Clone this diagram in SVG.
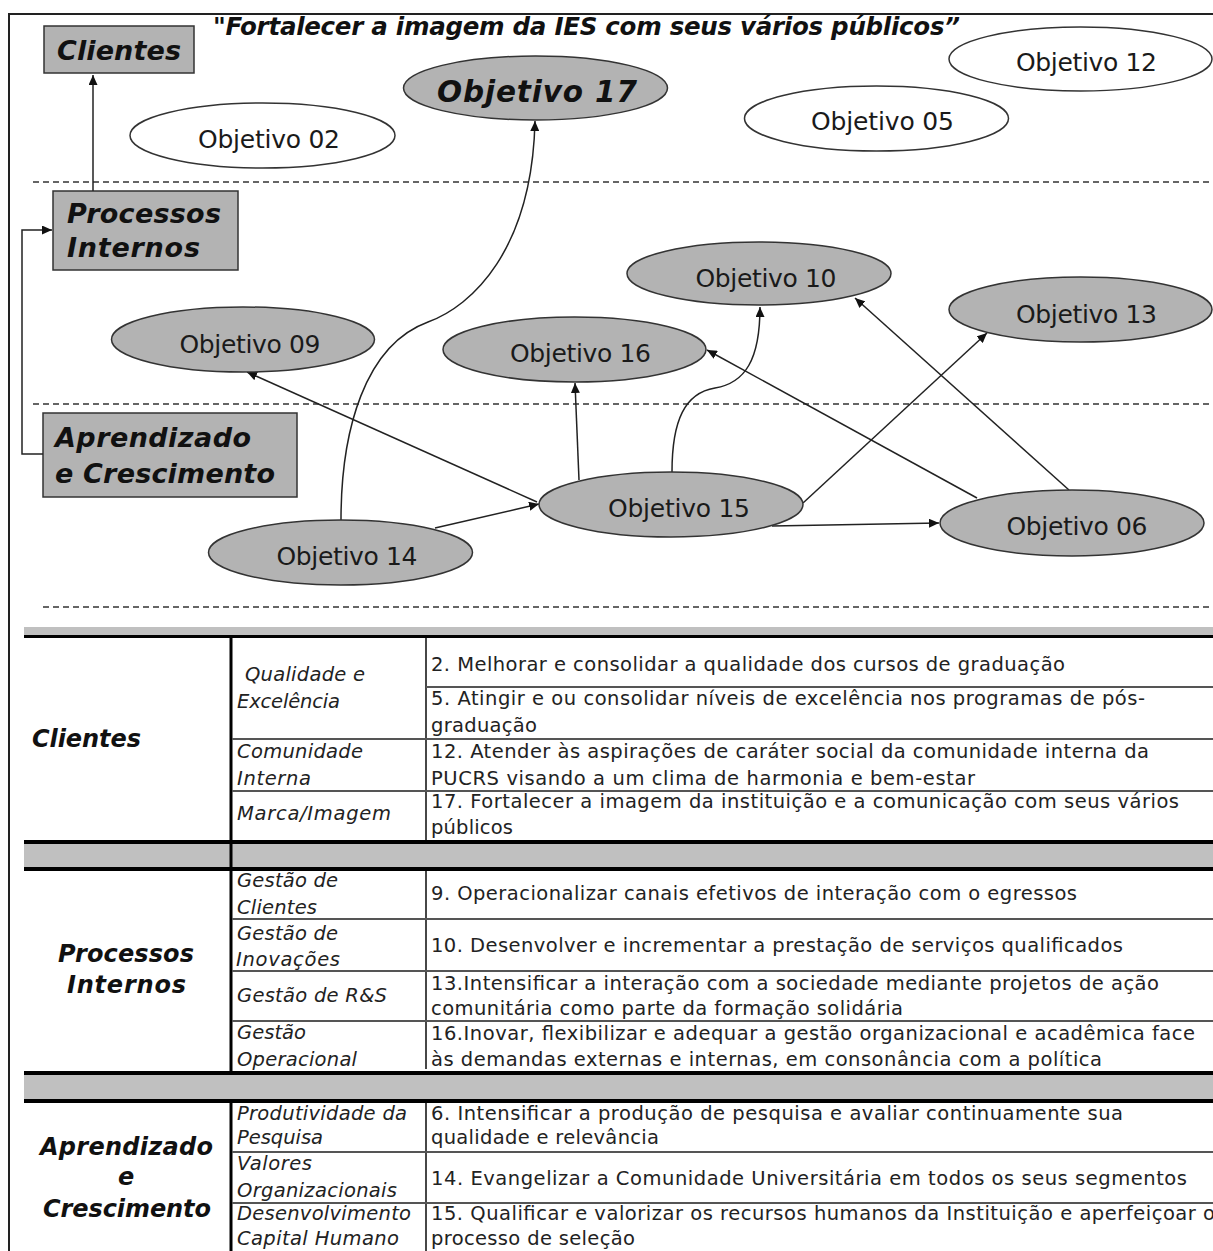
<svg xmlns="http://www.w3.org/2000/svg" width="1213" height="1251" viewBox="0 0 1213 1251">
<defs>
<marker id="arr" markerUnits="userSpaceOnUse" markerWidth="11" markerHeight="9" refX="10" refY="4.5" orient="auto">
<path d="M0,0 L10,4.5 L0,9 z" fill="#111"/>
</marker>
<style>
.box{fill:#b3b3b3;stroke:#333;stroke-width:1.5}
.eg{fill:#b3b3b3;stroke:#333;stroke-width:1.5}
.ew{fill:#fff;stroke:#333;stroke-width:1.5}
.bl{font-family:"DejaVu Sans",Verdana,sans-serif;font-weight:bold;font-style:italic;fill:#111}
.el{font-family:"DejaVu Sans",Verdana,sans-serif;font-size:25px;fill:#1a1a1a;text-anchor:middle}
.con{fill:none;stroke:#222;stroke-width:1.5}
.dash{stroke:#333;stroke-width:1.5;stroke-dasharray:6,4}
.tx{font-family:"DejaVu Sans",Verdana,sans-serif;font-size:19.5px;fill:#222}
.ti{font-family:"DejaVu Sans",Verdana,sans-serif;font-size:19.5px;font-style:italic;fill:#222}
.th{font-family:"DejaVu Sans",Verdana,sans-serif;font-size:24px;font-weight:bold;font-style:italic;fill:#111}
.gb{fill:#c0c0c0}
.bk{stroke:#000;stroke-width:4}
.rl{stroke:#555;stroke-width:1.8}
.vl{stroke:#333;stroke-width:1.8}
.vk{stroke:#000;stroke-width:3}
</style>
</defs>
<rect width="1213" height="1251" fill="#fff"/>
<path d="M9,1251 V14 H1213" fill="none" stroke="#222" stroke-width="2"/>

<text class="bl" x="213" y="35" font-size="24.5" textLength="747">"Fortalecer a imagem da IES com seus vários públicos”</text>

<g id="dashes">
<line class="dash" x1="33" y1="182" x2="1213" y2="182"/>
<line class="dash" x1="33" y1="404" x2="1213" y2="404"/>
<line class="dash" x1="43" y1="607" x2="1213" y2="607"/>
</g>

<g id="node-clientes"><rect class="box" x="44" y="26" width="150" height="47"/><text class="bl" x="57" y="60" font-size="27" textLength="124">Clientes</text></g>
<g id="node-processos"><rect class="box" x="53" y="191" width="185" height="79"/><text class="bl" x="67" y="223" font-size="27" textLength="154">Processos</text><text class="bl" x="67" y="257" font-size="27" textLength="133">Internos</text></g>
<g id="node-aprendizado"><rect class="box" x="43" y="413" width="254" height="84"/><text class="bl" x="55" y="447" font-size="27" textLength="196">Aprendizado</text><text class="bl" x="55" y="483" font-size="27" textLength="220">e Crescimento</text></g>

<g id="connectors">
<path class="con" d="M93,191 V75" marker-end="url(#arr)"/>
<path class="con" d="M43,454 H22 V230 H52" marker-end="url(#arr)"/>
<path class="con" d="M341,520 C341,430 365,345 428,322 C472,306 532,250 535,121" marker-end="url(#arr)"/>
<path class="con" d="M537,502 L247,372" marker-end="url(#arr)"/>
<path class="con" d="M435,528 L539,504" marker-end="url(#arr)"/>
<path class="con" d="M579,480 L575,383" marker-end="url(#arr)"/>
<path class="con" d="M672,472 C672,420 685,393 715,388 C745,383 760,360 760,307" marker-end="url(#arr)"/>
<path class="con" d="M803,503 L987,333" marker-end="url(#arr)"/>
<path class="con" d="M977,498 L707,350" marker-end="url(#arr)"/>
<path class="con" d="M1069,490 L855,298" marker-end="url(#arr)"/>
<path class="con" d="M772,526 L939,523" marker-end="url(#arr)"/>
</g>

<g id="obj17"><ellipse class="eg" cx="535.5" cy="88" rx="132" ry="32"/><text class="bl" x="437" y="102" font-size="29.5" textLength="200">Objetivo 17</text></g>
<g id="obj02"><ellipse class="ew" cx="262.5" cy="135.5" rx="132.5" ry="32.5"/><text class="el" x="269" y="148" textLength="142">Objetivo 02</text></g>
<g id="obj05"><ellipse class="ew" cx="876.5" cy="118.5" rx="132" ry="32.5"/><text class="el" x="882.5" y="130" textLength="143">Objetivo 05</text></g>
<g id="obj12"><ellipse class="ew" cx="1080.5" cy="59" rx="131.5" ry="32"/><text class="el" x="1086.5" y="71" textLength="141">Objetivo 12</text></g>
<g id="obj10"><ellipse class="eg" cx="759" cy="273.5" rx="132" ry="31.5"/><text class="el" x="766" y="287" textLength="141">Objetivo 10</text></g>
<g id="obj13"><ellipse class="eg" cx="1080.5" cy="309.5" rx="131.5" ry="32.5"/><text class="el" x="1086.5" y="323" textLength="141">Objetivo 13</text></g>
<g id="obj09"><ellipse class="eg" cx="243" cy="339.5" rx="131.5" ry="32.5"/><text class="el" x="250" y="353" textLength="141">Objetivo 09</text></g>
<g id="obj16"><ellipse class="eg" cx="574.5" cy="349.5" rx="131.5" ry="32.5"/><text class="el" x="580.5" y="362" textLength="141">Objetivo 16</text></g>
<g id="obj15"><ellipse class="eg" cx="671" cy="504.5" rx="132" ry="32.5"/><text class="el" x="679" y="517" textLength="142">Objetivo 15</text></g>
<g id="obj06"><ellipse class="eg" cx="1072" cy="523" rx="132" ry="33"/><text class="el" x="1077" y="535" textLength="141">Objetivo 06</text></g>
<g id="obj14"><ellipse class="eg" cx="340.5" cy="552.5" rx="132" ry="32.5"/><text class="el" x="347" y="565" textLength="141">Objetivo 14</text></g>

<g id="table">
<rect class="gb" x="24" y="627" width="1189" height="8"/>
<rect class="gb" x="24" y="844" width="1189" height="23"/>
<rect class="gb" x="24" y="1075" width="1189" height="24"/>
<line x1="24" y1="636.5" x2="1213" y2="636.5" stroke="#000" stroke-width="3"/>
<line class="bk" x1="24" y1="842" x2="1213" y2="842"/>
<line class="bk" x1="24" y1="869" x2="1213" y2="869"/>
<line class="bk" x1="24" y1="1073" x2="1213" y2="1073"/>
<line class="bk" x1="24" y1="1101" x2="1213" y2="1101"/>
<line class="vk" x1="231" y1="636" x2="231" y2="1073"/>
<line class="vk" x1="231" y1="1101" x2="231" y2="1251"/>
<line class="vl" x1="426" y1="638" x2="426" y2="840"/>
<line class="vl" x1="426" y1="871" x2="426" y2="1069"/>
<line class="vl" x1="426" y1="1103" x2="426" y2="1251"/>
<line class="rl" x1="426" y1="687" x2="1213" y2="687"/>
<line class="rl" x1="232" y1="739" x2="1213" y2="739"/>
<line class="rl" x1="232" y1="791" x2="1213" y2="791"/>
<line class="rl" x1="232" y1="919" x2="1213" y2="919"/>
<line class="rl" x1="232" y1="971" x2="1213" y2="971"/>
<line class="rl" x1="232" y1="1021" x2="1213" y2="1021"/>
<line class="rl" x1="232" y1="1152" x2="1213" y2="1152"/>
<line class="rl" x1="232" y1="1203" x2="1213" y2="1203"/>

<text class="th" x="32" y="747" textLength="109">Clientes</text>
<text class="th" x="58" y="962" textLength="136">Processos</text>
<text class="th" x="67" y="993" textLength="119">Internos</text>
<text class="th" x="40" y="1155" textLength="173">Aprendizado</text>
<text class="th" x="118" y="1185">e</text>
<text class="th" x="43" y="1217" textLength="168">Crescimento</text>

<text class="ti" x="245" y="681" textLength="120">Qualidade e</text>
<text class="ti" x="237" y="708" textLength="103">Excelência</text>
<text class="ti" x="237" y="758" textLength="126">Comunidade</text>
<text class="ti" x="237" y="785" textLength="74">Interna</text>
<text class="ti" x="237" y="820" textLength="154">Marca/Imagem</text>
<text class="ti" x="237" y="887" textLength="101">Gestão de</text>
<text class="ti" x="237" y="914" textLength="80">Clientes</text>
<text class="ti" x="237" y="940" textLength="101">Gestão de</text>
<text class="ti" x="236" y="966" textLength="104">Inovações</text>
<text class="ti" x="237" y="1002" textLength="150">Gestão de R&amp;S</text>
<text class="ti" x="237" y="1039" textLength="69">Gestão</text>
<text class="ti" x="237" y="1066" textLength="120">Operacional</text>
<text class="ti" x="237" y="1120" textLength="170">Produtividade da</text>
<text class="ti" x="237" y="1144" textLength="86">Pesquisa</text>
<text class="ti" x="237" y="1170" textLength="75">Valores</text>
<text class="ti" x="237" y="1197" textLength="160">Organizacionais</text>
<text class="ti" x="237" y="1220" textLength="174">Desenvolvimento</text>
<text class="ti" x="237" y="1245" textLength="162">Capital Humano</text>

<text class="tx" x="431" y="671" textLength="634">2. Melhorar e consolidar a qualidade dos cursos de graduação</text>
<text class="tx" x="431" y="705" textLength="714">5. Atingir e ou consolidar níveis de excelência nos programas de pós-</text>
<text class="tx" x="431" y="732" textLength="106">graduação</text>
<text class="tx" x="431" y="758" textLength="718">12. Atender às aspirações de caráter social da comunidade interna da</text>
<text class="tx" x="431" y="785" textLength="544">PUCRS visando a um clima de harmonia e bem-estar</text>
<text class="tx" x="431" y="808" textLength="748">17. Fortalecer a imagem da instituição e a comunicação com seus vários</text>
<text class="tx" x="431" y="834" textLength="82">públicos</text>
<text class="tx" x="431" y="900" textLength="646">9. Operacionalizar canais efetivos de interação com o egressos</text>
<text class="tx" x="431" y="952" textLength="692">10. Desenvolver e incrementar a prestação de serviços qualificados</text>
<text class="tx" x="431" y="990" textLength="728">13.Intensificar a interação com a sociedade mediante projetos de ação</text>
<text class="tx" x="431" y="1015" textLength="472">comunitária como parte da formação solidária</text>
<text class="tx" x="431" y="1040" textLength="764">16.Inovar, flexibilizar e adequar a gestão organizacional e acadêmica face</text>
<text class="tx" x="431" y="1066" textLength="671">às demandas externas e internas, em consonância com a política</text>
<text class="tx" x="431" y="1120" textLength="692">6. Intensificar a produção de pesquisa e avaliar continuamente sua</text>
<text class="tx" x="431" y="1144" textLength="228">qualidade e relevância</text>
<text class="tx" x="431" y="1185" textLength="756">14. Evangelizar a Comunidade Universitária em todos os seus segmentos</text>
<text class="tx" x="431" y="1220" textLength="784">15. Qualificar e valorizar os recursos humanos da Instituição e aperfeiçoar o</text>
<text class="tx" x="431" y="1245" textLength="204">processo de seleção</text>
</g>
</svg>
